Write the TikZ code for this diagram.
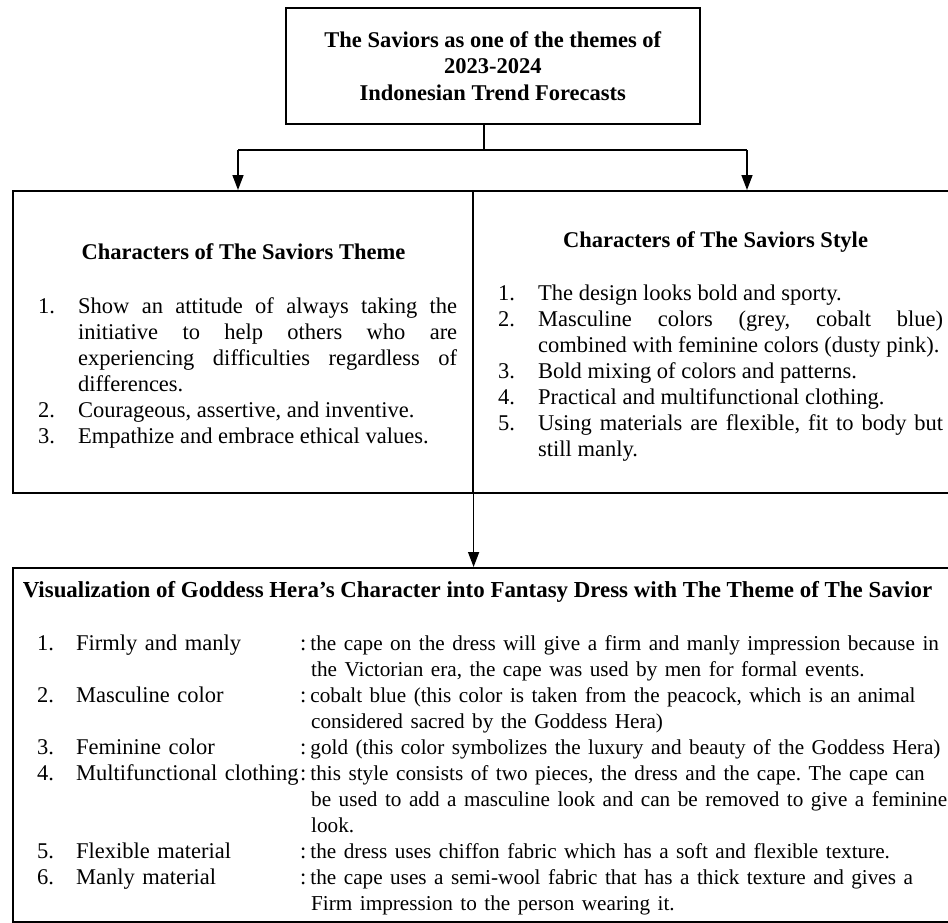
\documentclass[tikz,border=0pt]{standalone}
\usepackage{fontspec}
\setmainfont{Liberation Serif}
\usetikzlibrary{arrows.meta}
\frenchspacing
% numbered line with hanging indent
\newcommand{\lst}[2]{\par\hangindent=40pt\hangafter=1\noindent\strut\makebox[40pt][l]{#1}#2}
% numbered line with label, colon and text
\newcommand{\vis}[3]{\par\hangindent=274pt\hangafter=1\noindent\strut\makebox[39pt][l]{#1}\makebox[224pt][l]{#2}:\hspace{4pt}{\fontsize{21.2}{26}\selectfont #3}}
\begin{document}
\begin{tikzpicture}[x=1pt,y=-1pt,
    box/.style={draw,line width=1.6pt,inner sep=0pt,anchor=north west},
    arr/.style={line width=1.5pt,-{Triangle[length=15pt,width=11pt]}},
    txt/.style={inner sep=0pt,font=\fontsize{22.5}{26}\selectfont},
    head/.style={inner sep=0pt,anchor=base,font=\fontsize{22.5}{26}\selectfont\bfseries}]
  \useasboundingbox (0,0) rectangle (948,922);
  \clip (0,0) rectangle (948,922);
  % boxes
  \node[box,align=center,font=\fontsize{22.5}{26.5}\selectfont\bfseries,
        minimum width=414pt,minimum height=116pt] (top) at (285,7)
        {The Saviors as one of the themes of\\2023-2024\\Indonesian Trend Forecasts};
  \node[box,minimum width=460pt,minimum height=302pt] (theme) at (12,190) {};
  \node[box,minimum width=490pt,minimum height=302pt] (style) at (472,190) {};
  \node[box,minimum width=950pt,minimum height=354pt] (visual) at (12,567) {};
  % arrows
  \coordinate (fork) at (484,150);
  \coordinate (aL) at (238,150);
  \coordinate (aR) at (747,150);
  \draw[line width=1.5pt] (top.south -| fork) -- (fork);
  \draw[line width=1.5pt] (aL) -- (aR);
  \draw[arr] (aL) -- (theme.north -| aL);
  \draw[arr] (aR) -- (style.north -| aR);
  \draw[arr] (theme.south east) -- (visual.north -| theme.south east);
  % left box
  \node[head] (themeHd) at (243.5,259) {Characters of The Saviors Theme};
  \node[txt,anchor=north west,text width=419pt,align=justify] (themeLst) at (38,287)
    {\tolerance=10000
     \lst{1.}{Show an attitude of always taking the\linebreak initiative to help others who are\linebreak experiencing difficulties regardless of\linebreak differences.}
     \lst{2.}{Courageous, assertive, and inventive.}
     \lst{3.}{Empathize and embrace ethical values.}\par};
  % right box
  \node[head] (styleHd) at (715.5,247) {Characters of The Saviors Style};
  \node[txt,anchor=north west,text width=445pt,align=justify] (styleLst) at (498,274)
    {\tolerance=10000
     \lst{1.}{The design looks bold and sporty.}
     \lst{2.}{Masculine colors (grey, cobalt blue)\linebreak combined with feminine colors (dusty pink).}
     \lst{3.}{Bold mixing of colors and patterns.}
     \lst{4.}{Practical and multifunctional clothing.}
     \lst{5.}{Using materials are flexible, fit to body but\linebreak still manly.}\par};
  % bottom box
  \node[head,font=\fontsize{22.9}{26}\selectfont\bfseries] (visualHd) at (477.5,597)
    {Visualization of Goddess Hera's Character into Fantasy Dress with The Theme of The Savior};
  \node[txt,anchor=north west,text width=940pt,align=left] (visualLst) at (37,624)
    {\vis{1.}{Firmly and manly}{the cape on the dress will give a firm and manly impression because in\newline the Victorian era, the cape was used by men for formal events.}
     \vis{2.}{Masculine color}{cobalt blue (this color is taken from the peacock, which is an animal\newline considered sacred by the Goddess Hera)}
     \vis{3.}{Feminine color}{gold (this color symbolizes the luxury and beauty of the Goddess Hera)}
     \vis{4.}{Multifunctional clothing}{this style consists of two pieces, the dress and the cape. The cape can\newline be used to add a masculine look and can be removed to give a feminine\newline look.}
     \vis{5.}{Flexible material}{the dress uses chiffon fabric which has a soft and flexible texture.}
     \vis{6.}{Manly material}{the cape uses a semi-wool fabric that has a thick texture and gives a\newline Firm impression to the person wearing it.}\par};
\end{tikzpicture}
\end{document}
